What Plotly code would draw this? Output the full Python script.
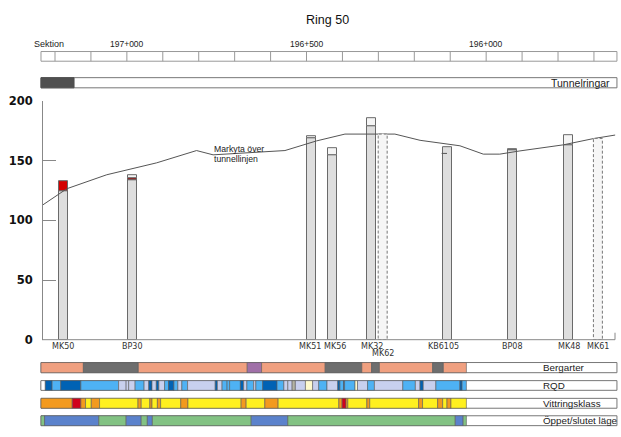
import plotly.graph_objects as go

W, H = 621, 437
TITLE = "Ring 50"

# ---------------- data (chainage in metres, levels in m) ----------------
SECTION_START = 197239
SECTION_END = 195636
SECTION_DIVIDERS = [197200, 197100, 197000, 196900, 196800, 196700, 196600, 196500,
                    196400, 196300, 196200, 196100, 196000, 195900, 195800, 195700]
SECTION_LABELS = [197000, 196500, 196000]

TUNNELRING_DONE = [197239, 197147]

GROUND_CH = [197236, 197167, 197056, 196917, 196806, 196760, 196560, 196500, 196472,
             196393, 196254, 196184, 196073, 196008, 195962, 195906, 195785, 195702, 195641]
GROUND_Z = [112.6, 126.6, 138.3, 148.3, 158.6, 155.0, 158.6, 164.5, 166.7,
            172.4, 172.4, 167.2, 162.6, 155.6, 155.6, 158.3, 163.4, 168.6, 171.6]

HOLE_NAMES = ["MK50", "BP30", "MK51", "MK56", "MK32", "MK62", "KB6105", "BP08", "MK48", "MK61"]
HOLE_CH = [197177, 196983, 196485, 196428, 196319, 196288, 196108, 195928, 195770, 195689]
HOLE_WIDTH = 25

SEG_HOLE = ["MK50", "MK50", "BP30", "BP30", "BP30", "MK51", "MK51", "MK56", "MK56",
            "MK32", "MK32", "KB6105", "BP08", "BP08", "MK48", "MK48"]
SEG_FROM = [0, 124.2, 0, 134.0, 135.2, 0, 169.2, 0, 154.5, 0, 178.9, 0, 0, 158.6, 0, 163.5]
SEG_TO = [124.2, 132.9, 134.0, 135.2, 138.3, 169.2, 170.8, 154.5, 161.0, 178.9, 185.4,
          161.8, 158.6, 160.0, 163.5, 171.6]
SEG_KIND = ["core", "red", "core", "darkred", "empty", "core", "empty", "core", "empty",
            "core", "empty", "core", "core", "dark", "core", "empty"]

PLANNED_HOLES = ["MK62", "MK61"]
PLANNED_TOP = [172.4, 168.8]

KB_MARK_CH = [196124, 196109]
KB_MARK_Z = [156.2, 156.2]

BERG_BOUNDS = [197239, 197121, 196968, 196665, 196625, 196448, 196346, 196319, 196297,
               196149, 196119, 196055]
BERG_CLASS = ["s", "g", "s", "p", "s", "g", "s", "g", "s", "g", "s"]

RQD_BOUNDS = [197239, 197227, 197208, 197184, 197128, 197023, 197002, 196995, 196977,
              196952, 196939, 196930, 196918, 196911, 196895, 196884, 196869, 196858,
              196847, 196831, 196754, 196748, 196735, 196721, 196714, 196684, 196675,
              196666, 196647, 196641, 196622, 196582, 196563, 196552, 196540, 196531,
              196503, 196483, 196466, 196443, 196413, 196407, 196397, 196394, 196365,
              196358, 196330, 196311, 196232, 196197, 196184, 196175, 196140, 196073,
              196067, 196055]
RQD_CLASS = ["W", "D", "B", "D", "B", "L", "L", "L", "B", "L", "D", "L", "D", "L", "B",
             "D", "B", "L", "B", "L", "D", "L", "B", "B", "B", "D", "L", "B", "L", "B",
             "D", "B", "L", "L", "G", "L", "Y", "L", "B", "L", "D", "B", "D", "B", "Y",
             "L", "B", "L", "B", "L", "D", "L", "B", "D", "B"]

VITT_BOUNDS = [197239, 197152, 197128, 197115, 197099, 197076, 196969, 196960, 196936,
               196930, 196915, 196906, 196850, 196830, 196682, 196668, 196616, 196579,
               196410, 196401, 196390, 196385, 196332, 196324, 196188, 196177, 196135,
               196121, 196109, 196098, 196055]
VITT_CLASS = ["O", "R", "O", "Y", "O", "Y", "O", "Y", "O", "Y", "O", "Y", "O", "Y", "O",
              "Y", "O", "Y", "O", "R", "O", "Y", "O", "Y", "O", "Y", "O", "Y", "O", "Y"]

OPPEN_BOUNDS = [197239, 197229, 197078, 197002, 196960, 196943, 196929, 196654, 196552,
                196086, 196064, 196055]
OPPEN_CLASS = ["G", "B", "G", "B", "G", "B", "G", "B", "G", "B", "G"]

# ---------------- styling ----------------
FONT = "Liberation Sans, Arial, sans-serif"
WIDE = "DejaVu Sans, Verdana, sans-serif"
EDGE = "#6a6a6a"

BERG_COL = {"s": "#F0A080", "g": "#6E6E6E", "p": "#A070A8"}
RQD_COL = {"W": "#FFFFFF", "L": "#C8D0EE", "B": "#4EB2F4", "D": "#0062B4",
           "Y": "#FFFACD", "G": "#B4B4A4"}
VITT_COL = {"O": "#F39A1E", "R": "#D0021B", "Y": "#FFF01F"}
OPPEN_COL = {"G": "#82C283", "B": "#5B82CC"}
HOLE_COL = {"core": "#DEDEDE", "red": "#D40000", "darkred": "#9A1010",
            "empty": "#F5F5F5", "dark": "#8A8A8A"}
LABEL_SHIFT_PX = {"MK51": -1.5, "MK56": 3, "KB6105": -3.5}
LABEL_Y_PX = {"MK62": 358.0}

# chainage <-> pixel scale (pixel 55 = 197200, 0.3593 px per metre)
CH0, PX0, K = 197200, 55.0, 0.3593
X_RANGE = [CH0 + PX0 / K, CH0 - (W - PX0) / K]


def py(p):
    return 1 - p / H


def pxp(p):
    return p / W


fig = go.Figure()

# borehole bars
hole_pos = dict(zip(HOLE_NAMES, HOLE_CH))
for kind in ["core", "red", "darkred", "empty", "dark"]:
    idx = [i for i, k in enumerate(SEG_KIND) if k == kind]
    fig.add_trace(go.Bar(
        x=[hole_pos[SEG_HOLE[i]] for i in idx],
        base=[SEG_FROM[i] for i in idx],
        y=[SEG_TO[i] - SEG_FROM[i] for i in idx],
        width=HOLE_WIDTH,
        marker=dict(color=HOLE_COL[kind], line=dict(color=EDGE, width=1)),
        showlegend=False, hoverinfo="skip"))

# ground surface
fig.add_trace(go.Scatter(x=GROUND_CH, y=GROUND_Z, mode="lines",
                         line=dict(color="#555555", width=1),
                         showlegend=False, hoverinfo="skip"))
fig.add_trace(go.Scatter(x=KB_MARK_CH, y=KB_MARK_Z, mode="lines",
                         line=dict(color="#555555", width=1),
                         showlegend=False, hoverinfo="skip"))

shapes = []
# planned (dashed) holes
for name, top in zip(PLANNED_HOLES, PLANNED_TOP):
    c = hole_pos[name]
    shapes.append(dict(type="rect", xref="x", yref="y",
                       x0=c + HOLE_WIDTH / 2, x1=c - HOLE_WIDTH / 2, y0=0, y1=top,
                       fillcolor="#F6F6F6",
                       line=dict(color="#777777", width=1, dash="3px,2px")))

# x-axis baseline and end tick
shapes.append(dict(type="line", xref="paper", yref="paper", x0=pxp(42), x1=pxp(615),
                   y0=py(343.7), y1=py(343.7), line=dict(color="#888888", width=1)))
shapes.append(dict(type="line", xref="paper", yref="paper", x0=pxp(615), x1=pxp(615),
                   y0=py(343.7), y1=py(336.5), line=dict(color="#888888", width=1)))

# section strip
shapes.append(dict(type="rect", xref="x", yref="paper", x0=SECTION_START, x1=SECTION_END,
                   y0=py(56), y1=py(46), fillcolor="white",
                   line=dict(color="#999999", width=1)))
for d in SECTION_DIVIDERS:
    shapes.append(dict(type="line", xref="x", yref="paper", x0=d, x1=d,
                       y0=py(56), y1=py(46), line=dict(color="#999999", width=1)))

# tunnel rings strip
shapes.append(dict(type="rect", xref="x", yref="paper", x0=SECTION_START, x1=SECTION_END,
                   y0=py(83.5), y1=py(73), fillcolor="white",
                   line=dict(color="#777777", width=1)))
shapes.append(dict(type="rect", xref="x", yref="paper", x0=TUNNELRING_DONE[0],
                   x1=TUNNELRING_DONE[1], y0=py(83.5), y1=py(73), fillcolor="#505050",
                   line=dict(color="#505050", width=1)))

# geology strips
ROWS = [
    ("Bergarter", 367.3, 377.8, BERG_BOUNDS, BERG_CLASS, BERG_COL),
    ("RQD", 386.0, 396.0, RQD_BOUNDS, RQD_CLASS, RQD_COL),
    ("Vittringsklass", 404.3, 414.5, VITT_BOUNDS, VITT_CLASS, VITT_COL),
    ("Öppet/slutet läge", 422.3, 432.5, OPPEN_BOUNDS, OPPEN_CLASS, OPPEN_COL),
]
annotations = []
for label, top, bot, bounds, cls, cmap in ROWS:
    shapes.append(dict(type="rect", xref="x", yref="paper", x0=SECTION_START,
                       x1=SECTION_END, y0=py(bot), y1=py(top), fillcolor="white",
                       line=dict(color="#777777", width=1)))
    for i, c in enumerate(cls):
        shapes.append(dict(type="rect", xref="x", yref="paper", x0=bounds[i],
                           x1=bounds[i + 1], y0=py(bot), y1=py(top),
                           fillcolor=cmap[c], line=dict(color="#5a5a5a", width=0.6)))
    annotations.append(dict(text=label, xref="paper", yref="paper", x=pxp(541),
                            y=py((top + bot) / 2), xanchor="left", yanchor="middle",
                            showarrow=False, font=dict(family=FONT, size=9.8, color="#222")))

annotations.append(dict(text="Tunnelringar", xref="paper", yref="paper", x=pxp(549),
                        y=py(78.3), xanchor="left", yanchor="middle", showarrow=False,
                        font=dict(family=FONT, size=10.5, color="#222")))

# texts
annotations.append(dict(text=TITLE, xref="paper", yref="paper", x=pxp(327.5), y=py(13.5),
                        xanchor="center", yanchor="middle", showarrow=False,
                        font=dict(family=FONT, size=12.5, color="#111")))
annotations.append(dict(text="Sektion", xref="paper", yref="paper", x=pxp(49), y=py(38),
                        xanchor="center", yanchor="middle", showarrow=False,
                        font=dict(family=FONT, size=9, color="#222")))
for ch in SECTION_LABELS:
    annotations.append(dict(text=f"{ch // 1000}+{ch % 1000:03d}", xref="x", yref="paper",
                            x=ch, y=py(38), xanchor="center", yanchor="middle",
                            showarrow=False, font=dict(family=FONT, size=8.5, color="#222")))
annotations.append(dict(text="Markyta över", xref="paper", yref="paper", x=pxp(212),
                        y=py(147), xanchor="left", yanchor="middle", showarrow=False,
                        font=dict(family=FONT, size=8.7, color="#222")))
annotations.append(dict(text="tunnellinjen", xref="paper", yref="paper", x=pxp(212),
                        y=py(157.5), xanchor="left", yanchor="middle", showarrow=False,
                        font=dict(family=FONT, size=8.7, color="#222")))

for name, ch in zip(HOLE_NAMES, HOLE_CH):
    yy = LABEL_Y_PX.get(name, 350.8)
    annotations.append(dict(text=name, xref="x", yref="paper", x=ch, y=py(yy),
                            xanchor="center", yanchor="middle", showarrow=False,
                            xshift=LABEL_SHIFT_PX.get(name, 0),
                            font=dict(family=WIDE, size=8, color="#333")))

fig.update_layout(
    width=W, height=H, margin=dict(l=0, r=0, t=0, b=0),
    paper_bgcolor="white", plot_bgcolor="rgba(0,0,0,0)",
    barmode="overlay", bargap=0,
    shapes=shapes, annotations=annotations,
    xaxis=dict(domain=[0, 1], range=X_RANGE, visible=False, fixedrange=True),
    yaxis=dict(domain=[py(343.7), py(97.3)], range=[0, 200], anchor="free",
               position=pxp(42), showline=True, linecolor="#888888", linewidth=1,
               ticks="inside", ticklen=13, tickcolor="#888888", tickwidth=1,
               tickvals=[0, 50, 100, 150, 200], showgrid=False, zeroline=False,
               ticklabelstandoff=7,
               tickfont=dict(family=WIDE, size=11.5, color="#111", weight="bold"),
               fixedrange=True),
)

fig.write_html("out.html")
